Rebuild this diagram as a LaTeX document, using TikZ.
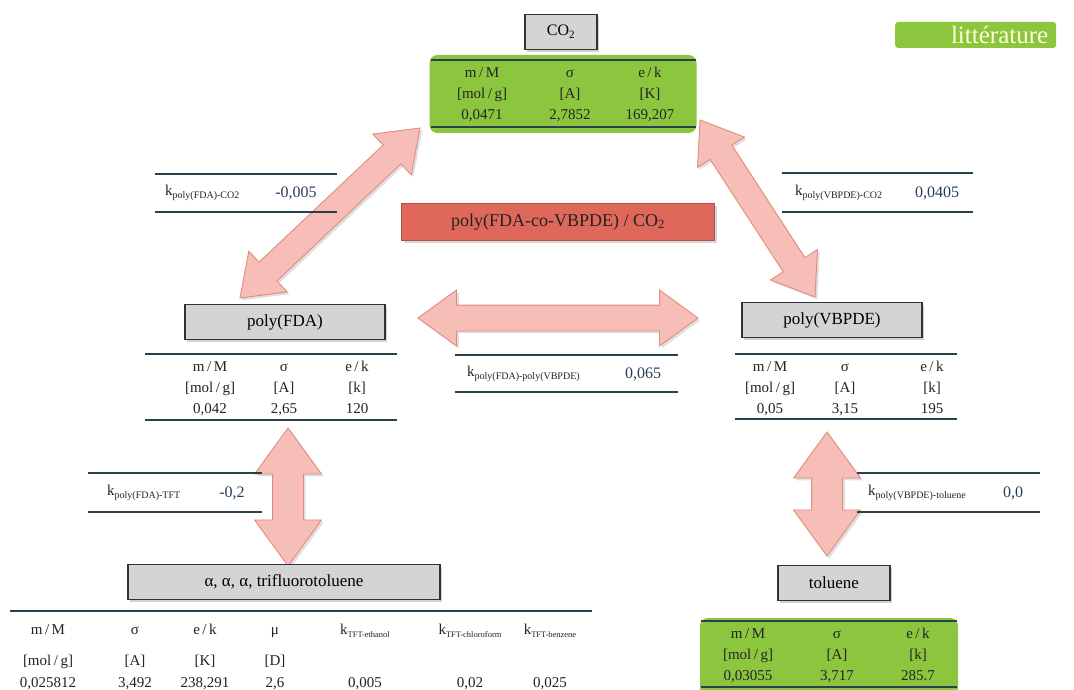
\documentclass[tikz,border=0pt]{standalone}
\usepackage{fontspec}
\setmainfont{Liberation Serif}
\usetikzlibrary{shapes.arrows, calc, shadows, positioning}

\definecolor{boxgray}{RGB}{212,212,212}
\definecolor{boxline}{RGB}{50,50,50}
\definecolor{litgreen}{RGB}{140,198,63}
\definecolor{tline}{RGB}{40,65,75}
\definecolor{txt}{RGB}{35,35,35}
\definecolor{kblue}{RGB}{40,60,90}
\definecolor{redfill}{RGB}{224,104,90}
\definecolor{redline}{RGB}{170,80,70}
\definecolor{arrfill}{RGB}{246,190,182}
\definecolor{arrline}{RGB}{226,140,128}
\definecolor{cream}{RGB}{255,255,220}

\newcommand\kidx[2][10]{k\raisebox{-3pt}{\fontsize{#1}{#1}\selectfont #2}}

\begin{document}
\begin{tikzpicture}[
  x=1pt, y=-1pt,
  lbl/.style={draw=boxline, line width=1.3pt, fill=boxgray, drop shadow={opacity=.35}, font=\fontsize{17}{17}\selectfont, inner sep=0, minimum height=35pt},
  grn/.style={fill=litgreen, rounded corners=8pt, inner sep=0},
  cell/.style={font=\fontsize{15}{21}\selectfont, align=center, text=txt, inner sep=0},
  tcell/.style={font=\fontsize{15}{22}\selectfont, align=center, text=txt, inner sep=0},
  rule/.style={draw=tline, line width=1.8pt},
  klab/.style={font=\fontsize{15}{15}\selectfont, text=txt, anchor=west, inner sep=0},
  kval/.style={font=\fontsize{16}{16}\selectfont, text=kblue, inner sep=0},
  fatarr/.style={double arrow, draw=arrline, fill=arrfill, line width=.9pt, inner xsep=0, inner ysep=12.5pt, double arrow head extend=15pt, double arrow tip angle=72, drop shadow={opacity=.25}},
  bigarr/.style={fatarr, inner ysep=15pt, double arrow head extend=18pt}
]
  \useasboundingbox[fill=white] (0,0) rectangle (1074,690);

  % arrow ends
  \coordinate (co2sw)   at (420,128);
  \coordinate (fdane)   at (240,298);
  \coordinate (co2se)   at (700,120);
  \coordinate (vbpdenw) at (815,297);
  \coordinate (fdae)    at (418,318);
  \coordinate (vbpdew)  at (698,318);
  \coordinate (fdas)    at (288,428);
  \coordinate (tftn)    at (288,566);
  \coordinate (vbpdes)  at (827,432);
  \coordinate (toln)    at (827,556);

  \path let \p1=($(fdane)-(co2sw)$), \n1={veclen(\x1,\y1)}, \n2={atan2(\y1,\x1)} in
    node[fatarr, minimum height=\n1, rotate=\n2] (arrl) at ($(co2sw)!.5!(fdane)$) {};
  \path let \p1=($(vbpdenw)-(co2se)$), \n1={veclen(\x1,\y1)}, \n2={atan2(\y1,\x1)} in
    node[fatarr, minimum height=\n1, rotate=\n2] (arrr) at ($(co2se)!.5!(vbpdenw)$) {};
  \path let \p1=($(vbpdew)-(fdae)$), \n1={veclen(\x1,\y1)} in
    node[fatarr, minimum height=\n1] (arrh) at ($(fdae)!.5!(vbpdew)$) {};
  \path let \p1=($(tftn)-(fdas)$), \n1={veclen(\x1,\y1)} in
    node[bigarr, minimum height=\n1, rotate=90] (arrv1) at ($(fdas)!.5!(tftn)$) {};
  \path let \p1=($(toln)-(vbpdes)$), \n1={veclen(\x1,\y1)} in
    node[bigarr, minimum height=\n1, rotate=90] (arrv2) at ($(vbpdes)!.5!(toln)$) {};

  % CO2
  \node[lbl, minimum width=72pt, font=\fontsize{16}{16}\selectfont] (co2) at (561,32) {CO\textsubscript{2}};
  \node[grn, minimum width=267pt, minimum height=78pt] (co2tab) at (563,94) {};
  \draw[rule] (431,60) -- (696,60);
  \draw[rule] (431,127) -- (696,127);
  \node[cell] (co2c1) at (482,94) {\strut m\,/\,M\\{[mol\,/\,g]}\\0,0471\strut};
  \node[cell] (co2c2) at (570,94) {\strut σ\\{[A]}\\2,7852\strut};
  \node[cell] (co2c3) at (650,94) {\strut e\,/\,k\\{[K]}\\169,207\strut};

  \node[fill=litgreen, rounded corners=3pt, anchor=west, minimum height=26pt, text width=145pt, align=right, inner xsep=8pt, inner ysep=0, text=cream, font=\fontsize{25}{25}\selectfont] (lit) at (895,35) {littérature};

  % binary parameters
  \draw[rule] (155,174) -- (337,174);
  \draw[rule] (155,212) -- (337,212);
  \node[klab] (kfc) at (165,193) {\kidx{poly(FDA)-CO2}};
  \node[kval] (kfcv) at (296,193) {-0,005};

  \draw[rule] (782,173) -- (973,173);
  \draw[rule] (782,212) -- (973,212);
  \node[klab] (kvc) at (795,193) {\kidx{poly(VBPDE)-CO2}};
  \node[kval] (kvcv) at (937,193) {0,0405};

  \node[draw=redline, fill=redfill, minimum width=313pt, minimum height=37pt, font=\fontsize{18}{18}\selectfont, text=txt, drop shadow={opacity=.3}] (sys) at (558,222) {poly(FDA-co-VBPDE) / CO\textsubscript{2}};

  % poly(FDA)
  \node[lbl, minimum width=200pt] (fda) at (285,322) {poly(FDA)};
  \draw[rule] (145,354) -- (397,354);
  \draw[rule] (145,420) -- (397,420);
  \node[cell] (fdac1) at (210,388) {\strut m\,/\,M\\{[mol\,/\,g]}\\0,042\strut};
  \node[cell] (fdac2) at (284,388) {\strut σ\\{[A]}\\2,65\strut};
  \node[cell] (fdac3) at (357,388) {\strut e\,/\,k\\{[k]}\\120\strut};

  \draw[rule] (455,355) -- (678,355);
  \draw[rule] (455,392) -- (678,392);
  \node[klab] (kfv) at (467,374) {\kidx{poly(FDA)-poly(VBPDE)}};
  \node[kval] (kfvv) at (643,374) {0,065};

  % poly(VBPDE)
  \node[lbl, minimum width=180pt] (vbpde) at (832,320) {poly(VBPDE)};
  \draw[rule] (735,354) -- (957,354);
  \draw[rule] (735,419) -- (957,419);
  \node[cell] (vbc1) at (770,388) {\strut m\,/\,M\\{[mol\,/\,g]}\\0,05\strut};
  \node[cell] (vbc2) at (845,388) {\strut σ\\{[A]}\\3,15\strut};
  \node[cell] (vbc3) at (932,388) {\strut e\,/\,k\\{[k]}\\195\strut};

  \draw[rule] (88,473) -- (262,473);
  \draw[rule] (88,512) -- (262,512);
  \node[klab] (kft) at (107,493) {\kidx{poly(FDA)-TFT}};
  \node[kval] (kftv) at (232,493) {-0,2};

  \draw[rule] (857,473) -- (1040,473);
  \draw[rule] (857,512) -- (1040,512);
  \node[klab] (kvt) at (868,493) {\kidx{poly(VBPDE)-toluene}};
  \node[kval] (kvtv) at (1013,493) {0,0};

  % trifluorotoluene
  \node[lbl, minimum width=312pt] (tft) at (284,582) {α, α, α, trifluorotoluene};
  \draw[rule] (10,611) -- (592,611);
  \node[tcell] (tftc1) at (48,657)  {\strut m\,/\,M\\[9pt]{[mol\,/\,g]}\\0,025812\strut};
  \node[tcell] (tftc2) at (135,657) {\strut σ\\[9pt]{[A]}\\3,492\strut};
  \node[tcell] (tftc3) at (205,657) {\strut e\,/\,k\\[9pt]{[K]}\\238,291\strut};
  \node[tcell] (tftc4) at (275,657) {\strut μ\\[9pt]{[D]}\\2,6\strut};
  \node[tcell] (tftc5) at (365,657) {\strut\kidx[8.5]{TFT-ethanol}\\[9pt]\mbox{}\\0,005\strut};
  \node[tcell] (tftc6) at (470,657) {\strut\kidx[8.5]{TFT-chloroform}\\[9pt]\mbox{}\\0,02\strut};
  \node[tcell] (tftc7) at (550,657) {\strut\kidx[8.5]{TFT-benzene}\\[9pt]\mbox{}\\0,025\strut};

  % toluene
  \node[lbl, minimum width=112pt] (tol) at (834,583) {toluene};
  \node[grn, minimum width=258pt, minimum height=78pt] (toltab) at (829,657) {};
  \draw[rule] (701,621) -- (957,621);
  \draw[rule] (701,687) -- (957,687);
  \node[cell] (tolc1) at (748,655) {\strut m\,/\,M\\{[mol\,/\,g]}\\0,03055\strut};
  \node[cell] (tolc2) at (837,655) {\strut σ\\{[A]}\\3,717\strut};
  \node[cell] (tolc3) at (918,655) {\strut e\,/\,k\\{[k]}\\285.7\strut};
\end{tikzpicture}
\end{document}
